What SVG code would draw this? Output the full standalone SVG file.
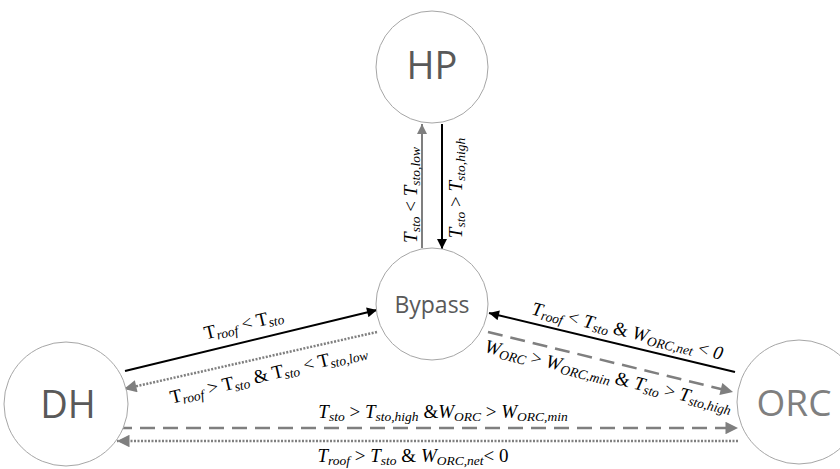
<svg xmlns="http://www.w3.org/2000/svg" width="840" height="469" viewBox="0 0 840 469">
<style>
.node circle{fill:#fff;stroke:#a6a6a6;stroke-width:1}
.nt{font-family:"Open Sans","Noto Sans",sans-serif;text-anchor:middle;fill:#595959}
.lbl{font-family:"Liberation Serif","DejaVu Serif",serif;font-size:19px;fill:#000;text-anchor:middle}
.i{font-style:italic}
.s{font-style:italic;font-size:13.5px}
.blk{stroke:#000;stroke-width:2;fill:none}
.gry{stroke:#7f7f7f;stroke-width:2;fill:none}
.dot{stroke:#7f7f7f;stroke-width:2.5;stroke-dasharray:2 1.5;fill:none}
.dash{stroke:#7f7f7f;stroke-width:2.5;stroke-dasharray:15 8;fill:none}
</style>
<defs>
<marker id="ab" viewBox="0 0 10 10" refX="10" refY="5" markerWidth="5.5" markerHeight="5" orient="auto" markerUnits="strokeWidth"><path d="M0,0L10,5L0,10z" fill="#000"/></marker>
<marker id="ag" viewBox="0 0 10 10" refX="10" refY="5" markerWidth="5.5" markerHeight="5" orient="auto" markerUnits="strokeWidth"><path d="M0,0L10,5L0,10z" fill="#7f7f7f"/></marker>
</defs>
<rect width="840" height="469" fill="#fff"/>
<g id="connectors">
<line class="gry" x1="422" y1="248" x2="422" y2="124" marker-end="url(#ag)"/>
<line class="blk" x1="442" y1="124" x2="442" y2="249" marker-end="url(#ab)"/>
<line class="blk" x1="125" y1="371" x2="377" y2="310" marker-end="url(#ab)"/>
<line class="dot" x1="377" y1="332" x2="124" y2="389" marker-end="url(#ag)"/>
<line class="blk" x1="735" y1="372" x2="489" y2="313" marker-end="url(#ab)"/>
<line class="dash" x1="488" y1="332" x2="733" y2="392" marker-end="url(#ag)"/>
<line class="dash" x1="117" y1="428" x2="738" y2="428" marker-end="url(#ag)"/>
<line class="dot" x1="738" y1="441" x2="117" y2="441" marker-end="url(#ag)"/>
<text class="lbl" transform="translate(417,195) rotate(-90)"><tspan class="i">T</tspan><tspan class="s" dy="3">sto</tspan><tspan dy="-3"> &lt; </tspan><tspan class="i">T</tspan><tspan class="s" dy="3">sto,low</tspan></text>
<text class="lbl" transform="translate(462,188) rotate(-90)"><tspan class="i">T</tspan><tspan class="s" dy="3">sto</tspan><tspan dy="-3"> &gt; </tspan><tspan class="i">T</tspan><tspan class="s" dy="3">sto,high</tspan></text>
<text class="lbl" transform="translate(245,330) rotate(-13.6)"><tspan>T</tspan><tspan class="s" dy="3">roof</tspan><tspan dy="-3"> &lt; </tspan><tspan>T</tspan><tspan class="s" dy="3">sto</tspan></text>
<text class="lbl" transform="translate(270,380) rotate(-13.6)"><tspan>T</tspan><tspan class="s" dy="3">roof</tspan><tspan dy="-3"> &gt; </tspan><tspan>T</tspan><tspan class="s" dy="3">sto</tspan><tspan dy="-3"> &amp; </tspan><tspan>T</tspan><tspan class="s" dy="3">sto</tspan><tspan dy="-3"> &lt; </tspan><tspan>T</tspan><tspan class="s" dy="3">sto,low</tspan></text>
<text class="lbl" transform="translate(626,337) rotate(13.5)"><tspan class="i">T</tspan><tspan class="s" dy="3">roof</tspan><tspan dy="-3"> &lt; </tspan><tspan class="i">T</tspan><tspan class="s" dy="3">sto</tspan><tspan dy="-3"> &amp; </tspan><tspan class="i">W</tspan><tspan class="s" dy="3">ORC,net</tspan><tspan dy="-3"> &lt; </tspan><tspan class="i">0</tspan></text>
<text class="lbl" transform="translate(607,382) rotate(13.8)"><tspan class="i">W</tspan><tspan class="s" dy="3">ORC</tspan><tspan dy="-3"> &gt; </tspan><tspan class="i">W</tspan><tspan class="s" dy="3">ORC,min</tspan><tspan dy="-3"> &amp; </tspan><tspan class="i">T</tspan><tspan class="s" dy="3">sto</tspan><tspan dy="-3"> &gt; </tspan><tspan class="i">T</tspan><tspan class="s" dy="3">sto,high</tspan></text>
<text class="lbl" x="443" y="418"><tspan class="i">T</tspan><tspan class="s" dy="3">sto</tspan><tspan dy="-3"> &gt; </tspan><tspan class="i">T</tspan><tspan class="s" dy="3">sto,high</tspan><tspan dy="-3"> &amp;</tspan><tspan class="i">W</tspan><tspan class="s" dy="3">ORC</tspan><tspan dy="-3"> &gt; </tspan><tspan class="i">W</tspan><tspan class="s" dy="3">ORC,min</tspan></text>
<text class="lbl" x="413" y="462"><tspan class="i">T</tspan><tspan class="s" dy="3">roof</tspan><tspan dy="-3"> &gt; </tspan><tspan class="i">T</tspan><tspan class="s" dy="3">sto</tspan><tspan dy="-3"> &amp; </tspan><tspan class="i">W</tspan><tspan class="s" dy="3">ORC,net</tspan><tspan dy="-3">&lt; 0</tspan></text>
</g>
<g id="HP" class="node"><circle cx="432" cy="67" r="56"/><text class="nt" x="432" y="79" font-size="38">HP</text></g>
<g id="Bypass" class="node"><circle cx="432" cy="304" r="56"/><text class="nt" x="432" y="313" font-size="23">Bypass</text></g>
<g id="DH" class="node"><circle cx="66" cy="404" r="62"/><text class="nt" x="68" y="418" font-size="38">DH</text></g>
<g id="ORC" class="node"><circle cx="799" cy="402" r="62"/><text class="nt" x="794" y="416" font-size="37" style="fill:#7f7f7f">ORC</text></g>
</svg>
